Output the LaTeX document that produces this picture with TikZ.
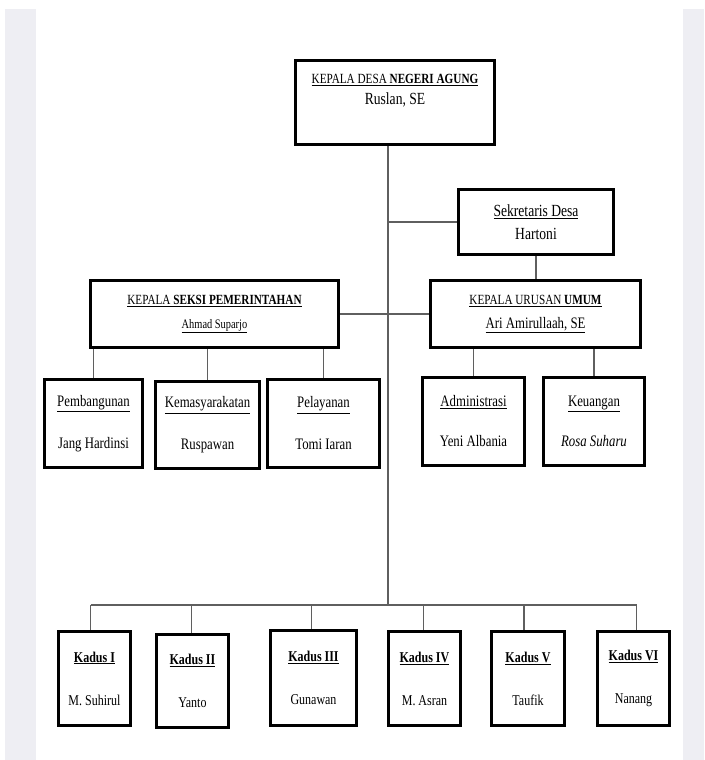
\documentclass[tikz,border=0pt]{standalone}
\usepackage{fontspec}
\setmainfont[FakeStretch=0.8]{Liberation Serif}
\usepackage{tikz}
\usetikzlibrary{positioning}
\definecolor{stripgray}{RGB}{238,238,243}
\definecolor{linegray}{RGB}{95,95,95}

\tikzset{
  unitbox/.style={draw=black, line width=3.2pt, fill=white, align=center, inner sep=0pt},
  headtext/.style={font=\fontsize{14}{24}\selectfont},
  subtext/.style={font=\fontsize{16}{19}\selectfont},
  kadustext/.style={font=\fontsize{15}{18}\selectfont},
  link/.style={draw=linegray, line width=1.1pt},
}

\begin{document}
\begin{tikzpicture}[x=1pt,y=-1pt]
\useasboundingbox (0,0) rectangle (704,760);
% Draw the side strips
\fill[stripgray] (5,9) rectangle (36,760);
\fill[stripgray] (683,9) rectangle (704,760);

% Draw the head of the village
\node[unitbox, minimum width=199pt, minimum height=84pt] (kades) at (395,102.5) {};
\node[anchor=north, align=center, font=\fontsize{14}{21}\selectfont] (kadesT) at ([yshift=-12pt]kades.north)
  {\underline{KEPALA DESA \textbf{NEGERI AGUNG}}\\ {\fontsize{17}{21}\selectfont Ruslan, SE}};

% Draw the secretary and the two heads
\node[unitbox, headtext, font=\fontsize{17}{23}\selectfont, minimum width=155pt, minimum height=65pt] (sekdes) at (536,222)
  {\underline{Sekretaris Desa}\\ Hartoni};
\node[unitbox, headtext, minimum width=248pt, minimum height=67pt] (kasi) at (214.5,314)
  {\underline{KEPALA \textbf{SEKSI PEMERINTAHAN}}\\ {\fontsize{13}{24}\selectfont\underline{Ahmad Suparjo}}};
\node[unitbox, headtext, minimum width=210pt, minimum height=67pt] (kaur) at (535.5,314)
  {\underline{KEPALA URUSAN \textbf{UMUM}}\\ {\fontsize{16}{24}\selectfont\underline{Ari Amirullaah, SE}}};

% Draw the sections
\node[unitbox, subtext, minimum width=98pt, minimum height=88pt] (pemb) at (93.5,423.5)
  {\underline{Pembangunan}\\[23pt] Jang Hardinsi};
\node[unitbox, subtext, minimum width=104pt, minimum height=87pt] (kemas) at (207.5,425)
  {\underline{Kemasyarakatan}\\[23pt] Ruspawan};
\node[unitbox, subtext, minimum width=112pt, minimum height=88pt] (pelay) at (323.5,423.5)
  {\underline{Pelayanan}\\[23pt] Tomi Iaran};
\node[unitbox, subtext, minimum width=102pt, minimum height=88pt] (admin) at (473.5,421.5)
  {\underline{Administrasi}\\[21pt] Yeni Albania};
\node[unitbox, subtext, minimum width=101pt, minimum height=88pt] (keu) at (594,421.5)
  {\underline{Keuangan}\\[21pt] \textit{Rosa Suharu}};

% Draw the hamlet heads
\node[unitbox, kadustext, minimum width=72pt, minimum height=94pt] (kd1) at (94.5,678.5)
  {\textbf{\underline{Kadus I}}\\[25pt] M. Suhirul};
\node[unitbox, kadustext, minimum width=72pt, minimum height=93pt] (kd2) at (192.5,681)
  {\textbf{\underline{Kadus II}}\\[25pt] Yanto};
\node[unitbox, kadustext, minimum width=86pt, minimum height=95pt] (kd3) at (313.5,678)
  {\textbf{\underline{Kadus III}}\\[25pt] Gunawan};
\node[unitbox, kadustext, minimum width=72pt, minimum height=94pt] (kd4) at (424.5,678.5)
  {\textbf{\underline{Kadus IV}}\\[25pt] M. Asran};
\node[unitbox, kadustext, minimum width=73pt, minimum height=94pt] (kd5) at (528,678.5)
  {\textbf{\underline{Kadus V}}\\[25pt] Taufik};
\node[unitbox, kadustext, minimum width=72pt, minimum height=94pt] (kd6) at (633.5,678.5)
  {\textbf{\underline{Kadus VI}}\\[25pt] Nanang};

% Draw the connectors
\coordinate (spine) at ([xshift=-7pt]kades.south);
\coordinate (bus) at (388,605);
\draw[link] (spine) -- (bus);
\draw[link] (sekdes.west) -- (sekdes.west -| spine);
\draw[link] (sekdes.south) -- (sekdes.south |- kaur.north);
\draw[link] (kasi.east) -- (kaur.west);
\foreach \c in {pemb,kemas,pelay}
  \draw[link] (\c.north) -- (\c.north |- kasi.south);
\foreach \c in {admin,keu}
  \draw[link] (\c.north) -- (\c.north |- kaur.south);
\draw[link] ([xshift=-4pt]kd1.north |- bus) -- ([xshift=3pt]kd6.north |- bus);
\foreach \c/\dx in {kd1/-4,kd2/-1,kd3/-2,kd4/-1,kd5/-4,kd6/3}
  \draw[link] ([xshift=\dx pt]\c.north) -- ([xshift=\dx pt]\c.north |- bus);
\end{tikzpicture}
\end{document}
